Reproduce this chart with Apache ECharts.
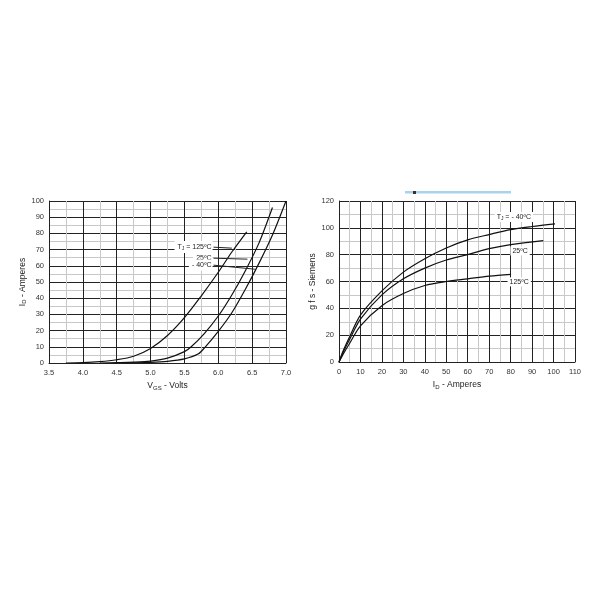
<!DOCTYPE html>
<html><head><meta charset="utf-8">
<script src="https://cdn.jsdelivr.net/npm/echarts@6/dist/echarts.min.js"></script>
<style>html,body{margin:0;padding:0;background:#fff}#c{width:600px;height:600px}</style>
</head><body><div id="c"></div>
<script>
// Left chart: ID vs VGS
const vgs125 = [3.75,4.0,4.25,4.5,4.75,5.0,5.25,5.5,5.75,6.0,6.2,6.42];
const id125  = [0,0.2,0.8,2,4.2,9,17,28,41.5,56,68.5,81];
const vgs25  = [4.25,4.5,4.75,5.0,5.25,5.5,5.6,5.8,6.0,6.2,6.4,6.6,6.8];
const id25   = [0,0.2,0.5,1.2,3,7,10,18.5,29,42,57,74,96];
const vgs40  = [4.6,5.0,5.25,5.5,5.7,5.8,6.0,6.2,6.4,6.6,6.8,7.0];
const id40   = [0,0.4,1,2.5,5.5,9.5,19.5,31,45.5,61.5,79,100];
// Right chart: gfs vs ID
const idA40  = [0,2,5,10,20,30,40,50,60,70,80,90,100.7];
const gfsA40 = [0,8.5,19,35,53,67,77,85,91,95,98.7,101,103];
const idA25  = [0,2,5,10,20,30,40,50,60,70,80,95.2];
const gfsA25 = [0,7.5,17,32,50,62,70,76,80,84.5,87.5,90.5];
const idA125 = [0,2,5,10,20,30,40,50,60,70,80.2];
const gfsA125= [0,6,14,27,42,51,57,60,62,64,65.3];

const pairs = (xs, ys) => xs.map((x,i)=>[x, ys[i]]);
const FONT = 'Liberation Sans';
const lbl = {fontFamily: FONT, fontSize: 7.5, color: '#333'};
const rich = {
  a:{fontFamily:FONT,fontSize:8.5,color:'#222'},
  s:{fontFamily:FONT,fontSize:6,color:'#222',padding:[4,0,0,0]},
  t:{fontFamily:FONT,fontSize:7,color:'#222'},
  ts:{fontFamily:FONT,fontSize:5,color:'#222',padding:[3,0,0,0]}
};
const major = {show:true,lineStyle:{color:'#222',width:1}};
const minor = {show:true,lineStyle:{color:'#c8c8c8',width:1}};
const curve = {type:'line',smooth:0.3,symbol:'none',lineStyle:{color:'#111',width:1.2},silent:true};

function leader(from, to, text){
  return {symbol:['none','none'],silent:true,
    lineStyle:{color:'#222',width:1,type:'solid'},
    label:{show:true,position:'start',formatter:text,rich:rich,backgroundColor:'#fff',padding:[2,1,2,3],distance:1},
    data:[[{coord:from},{coord:to}]]};
}
function tag(pt, text){
  return {symbol:'circle',symbolSize:1,silent:true,itemStyle:{color:'rgba(0,0,0,0)'},
    label:{show:true,position:'inside',formatter:text,rich:rich,backgroundColor:'#fff',padding:[1,2,1,2]},
    data:[{coord:pt}]};
}

const chart = echarts.init(document.getElementById('c'));
chart.setOption({
  animation:false,
  backgroundColor:'#fff',
  grid:[
    {left:49,top:201,width:237,height:162},
    {left:339,top:201,width:236,height:161}
  ],
  xAxis:[
    {gridIndex:0,type:'value',min:3.5,max:7.0,interval:0.5,
     axisLine:{show:true,lineStyle:{color:'#222'}},axisTick:{show:false},
     axisLabel:{...lbl,margin:6,formatter:v=>v.toFixed(1)},
     splitLine:major,minorTick:{show:false,splitNumber:2},minorSplitLine:minor,
     name:'{a|V}{s|GS}{a| - Volts}',nameLocation:'middle',nameGap:18,nameTextStyle:{rich:rich}},
    {gridIndex:1,type:'value',min:0,max:110,interval:10,
     axisLine:{show:true,lineStyle:{color:'#222'}},axisTick:{show:false},
     axisLabel:{...lbl,margin:6},
     splitLine:major,minorTick:{show:false,splitNumber:2},minorSplitLine:minor,
     name:'{a|I}{s|D}{a| - Amperes}',nameLocation:'middle',nameGap:18,nameTextStyle:{rich:rich}}
  ],
  yAxis:[
    {gridIndex:0,type:'value',min:0,max:100,interval:10,
     axisLine:{show:true,lineStyle:{color:'#222'}},axisTick:{show:false},
     axisLabel:{...lbl,margin:5},
     splitLine:major,minorTick:{show:false,splitNumber:2},minorSplitLine:minor,
     name:'{a|I}{s|D}{a| - Amperes}',nameLocation:'middle',nameGap:17,nameRotate:90,nameTextStyle:{rich:rich}},
    {gridIndex:1,type:'value',min:0,max:120,interval:20,
     axisLine:{show:true,lineStyle:{color:'#222'}},axisTick:{show:false},
     axisLabel:{...lbl,margin:5},
     splitLine:major,minorTick:{show:false,splitNumber:2},minorSplitLine:minor,
     name:'{a|g f s - Siemens}',nameLocation:'middle',nameGap:18,nameRotate:90,nameTextStyle:{rich:rich}}
  ],
  graphic:[
    {type:'rect',shape:{x:405,y:191,width:106,height:2.5},style:{fill:'#a9d3ea'}},
    {type:'rect',shape:{x:413,y:191,width:3,height:3},style:{fill:'#333'}}
  ],
  series:[
    {...curve,xAxisIndex:0,yAxisIndex:0,data:pairs(vgs125,id125),
      markLine:leader([5.93,71.5],[6.2,70.9],'{t|T}{ts|J}{t| = 125ºC}')},
    {...curve,xAxisIndex:0,yAxisIndex:0,data:pairs(vgs25,id25),
      markLine:leader([5.93,64.7],[6.43,64.1],'{t|25ºC}')},
    {...curve,xAxisIndex:0,yAxisIndex:0,data:pairs(vgs40,id40),
      markLine:leader([5.93,60.4],[6.54,57.9],'{t|- 40ºC}')},
    {...curve,xAxisIndex:1,yAxisIndex:1,data:pairs(idA40,gfsA40),
      markPoint:tag([81.5,108],'{t|T}{ts|J}{t| = - 40ºC}')},
    {...curve,xAxisIndex:1,yAxisIndex:1,data:pairs(idA25,gfsA25),
      markPoint:tag([84.4,82.8],'{t|25ºC}')},
    {...curve,xAxisIndex:1,yAxisIndex:1,data:pairs(idA125,gfsA125),
      markPoint:tag([84,59.7],'{t|125ºC}')}
  ]
});
</script></body></html>
